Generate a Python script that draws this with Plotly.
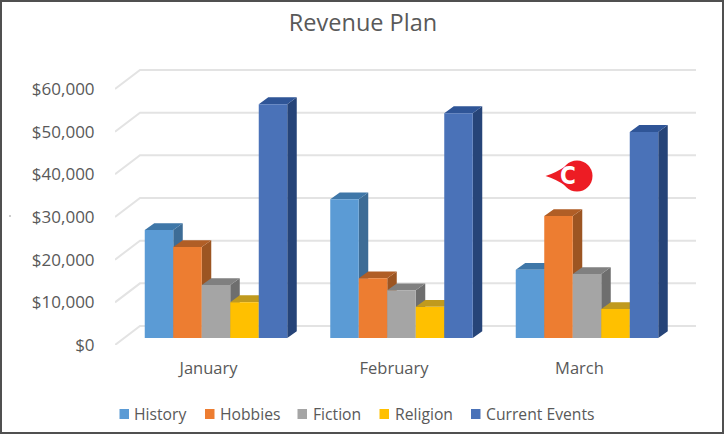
import plotly.graph_objects as go

months = ["January", "February", "March"]
history = [25300, 32500, 16000]
hobbies = [21300, 14000, 28600]
fiction = [12400, 11200, 15000]
religion = [8400, 7300, 6800]
current_events = [54800, 52700, 48300]
series_names = ["History", "Hobbies", "Fiction", "Religion", "Current Events"]
y_ticks = [0, 10000, 20000, 30000, 40000, 50000, 60000]
y_labels = ["$0", "$10,000", "$20,000", "$30,000", "$40,000", "$50,000", "$60,000"]

front_colors = ["#5B9BD5", "#ED7D31", "#A5A5A5", "#FFC000", "#4A72B8"]
top_colors = ["#3F77A8", "#B05E26", "#808080", "#C09A1E", "#2F5597"]
side_colors = ["#3D6C96", "#9C5522", "#6E6E6E", "#A67F10", "#264478"]
legend_swatch_px = [119.5, 205, 297.5, 379.5, 471]
legend_text_px = [133, 219, 312, 394, 485]

W, H = 725, 435
L, R, T, B = 115, 700, 60, 345
PX_PER_VALUE = 42.67 / 10000
PX_PER_CAT = 185.5
x_range = [(L - 208.5) / PX_PER_CAT, (R - 208.5) / PX_PER_CAT]
y_range = [0, (B - T) / PX_PER_VALUE]

bar_w = 28.5 / PX_PER_CAT
bars_shift = 7.5 / PX_PER_CAT
floor_base = 7 / PX_PER_VALUE          # bars stand mid-way on the floor
depth_x = 9.5 / PX_PER_CAT
depth_y = 6.8 / PX_PER_VALUE
wall_x = x_range[0] + 25 / PX_PER_CAT  # back wall
wall_y = 19 / PX_PER_VALUE
wall_right = (696 - 208.5) / PX_PER_CAT


def px(x):
    return (x - L) / (R - L)


def py(y):
    return (B - y) / (B - T)


fig = go.Figure()

# walls / gridlines
gx, gy = [], []
for v in y_ticks:
    gx += [x_range[0], wall_x, wall_right, None]
    gy += [v, v + wall_y, v + wall_y, None]
fig.add_trace(go.Scatter(x=gx, y=gy, mode="lines", line=dict(color="#E3E3E3", width=2),
                         hoverinfo="skip", showlegend=False, zorder=0))

all_values = [history, hobbies, fiction, religion, current_events]
for j, (name, values) in enumerate(zip(series_names, all_values)):
    xs = [i + bars_shift + (j - 2) * bar_w for i in range(len(months))]
    side_x, side_y, top_x, top_y = [], [], [], []
    for xc, v in zip(xs, values):
        x0, x1 = xc - bar_w / 2, xc + bar_w / 2
        y0, y1 = floor_base, floor_base + v
        side_x += [x1, x1 + depth_x, x1 + depth_x, x1, x1, None]
        side_y += [y0, y0 + depth_y, y1 + depth_y, y1, y0, None]
        top_x += [x0, x0 + depth_x, x1 + depth_x, x1, x0, None]
        top_y += [y1, y1 + depth_y, y1 + depth_y, y1, y1, None]
    z = 2 * j + 1
    fig.add_trace(go.Scatter(x=side_x, y=side_y, mode="lines", fill="toself", fillcolor=side_colors[j],
                             line=dict(width=0, color=side_colors[j]), hoverinfo="skip",
                             showlegend=False, zorder=z))
    fig.add_trace(go.Scatter(x=top_x, y=top_y, mode="lines", fill="toself", fillcolor=top_colors[j],
                             line=dict(width=0, color=top_colors[j]), hoverinfo="skip",
                             showlegend=False, zorder=z))
    fig.add_trace(go.Bar(x=xs, y=values, base=floor_base, width=bar_w, name=name,
                         marker=dict(color=front_colors[j], line=dict(width=0)), zorder=z + 1,
                         showlegend=False))

shapes = [
    # outer frame
    dict(type="rect", xref="paper", yref="paper", x0=px(1), x1=px(W - 2), y0=py(1), y1=py(H - 2),
         line=dict(color="#505050", width=2), layer="below"),
    # small mark on the left edge
    dict(type="line", xref="paper", yref="paper", x0=px(9), x1=px(11), y0=py(216), y1=py(216),
         line=dict(color="#9A9A9A", width=1)),
    # callout
    dict(type="path", xref="paper", yref="paper", xsizemode="scaled", ysizemode="scaled",
         path="M {} {} Q {} {} {} {} L {} {} Q {} {} {} {} Z".format(
             px(545.5), py(176), px(556), py(172.8), px(565), py(166.5),
             px(565), py(185.5), px(556), py(179.2), px(545.5), py(176)),
         fillcolor="#ED1C24", line=dict(width=0)),
    dict(type="circle", xref="paper", yref="paper", x0=px(561.5), x1=px(592.5), y0=py(160.5), y1=py(191.5),
         fillcolor="#ED1C24", line=dict(width=0)),
]
annotations = [dict(text="<b>C</b>", xref="paper", yref="paper", x=px(577.5), y=py(175.5),
                    showarrow=False,
                    font=dict(size=24, color="white", family="DejaVu Sans Condensed"))]

# legend row
for name, sx, tx, color in zip(series_names, legend_swatch_px, legend_text_px, front_colors):
    shapes.append(dict(type="rect", xref="paper", yref="paper", x0=px(sx), x1=px(sx + 9.5),
                       y0=py(409), y1=py(419), fillcolor=color, line=dict(width=0)))
    annotations.append(dict(text=name, xref="paper", yref="paper", x=px(tx), y=py(414),
                            xanchor="left", yanchor="middle", showarrow=False, xshift=-1,
                            font=dict(size=15.7, color="#595959")))

fig.update_layout(
    width=W, height=H, barmode="overlay", showlegend=False,
    paper_bgcolor="white", plot_bgcolor="white",
    margin=dict(l=L, r=W - R, t=T, b=H - B, autoexpand=False, pad=0),
    font=dict(family="Open Sans", color="#595959", size=15),
    title=dict(text="Revenue Plan", x=363 / W, xanchor="center", y=1 - 23 / H, yanchor="middle",
               font=dict(size=23.5, color="#595959")),
    xaxis=dict(range=x_range, tickmode="array", tickvals=list(range(len(months))), ticktext=months,
               showgrid=False, zeroline=False, showline=False, ticks="outside", ticklen=8,
               tickcolor="rgba(0,0,0,0)", tickfont=dict(size=16.5)),
    yaxis=dict(range=y_range, tickmode="array", tickvals=y_ticks, ticktext=y_labels,
               showgrid=False, zeroline=False, showline=False, ticks="outside", ticklen=16,
               tickcolor="rgba(0,0,0,0)", tickfont=dict(size=17)),
    shapes=shapes,
    annotations=annotations,
)

fig.write_html("out.html", config=dict(displayModeBar=False),
               post_script="document.body.style.margin='0';document.documentElement.style.overflow='hidden';")
